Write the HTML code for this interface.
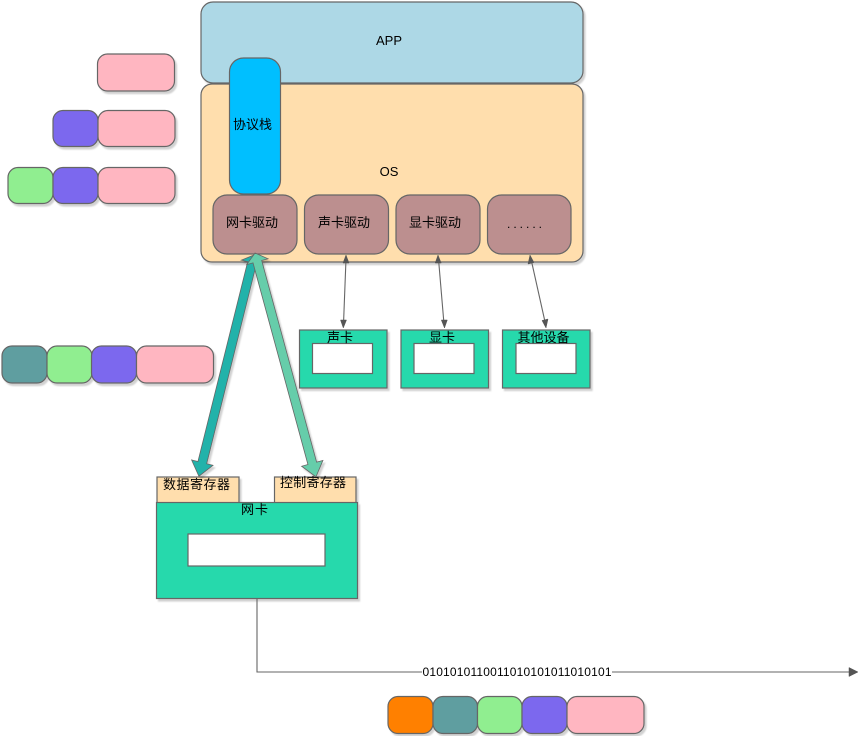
<!DOCTYPE html>
<html><head><meta charset="utf-8">
<style>
html,body{margin:0;padding:0;background:#fff;width:865px;height:736px;overflow:hidden}
svg{display:block}
text{font-family:"Liberation Sans","WenQuanYi Zen Hei","Noto Sans CJK SC",sans-serif;font-size:13px;fill:#000;text-anchor:middle}
.s rect,.s path{stroke:#666;stroke-width:1.2}
</style></head><body>
<svg width="865" height="736" viewBox="0 0 865 736" xmlns="http://www.w3.org/2000/svg">
<defs>
<filter id="sh" x="-10%" y="-10%" width="125%" height="125%"><feDropShadow dx="2" dy="2.500" stdDeviation="0.8" flood-color="#000" flood-opacity=".18"/></filter>
</defs>
<g class="s" filter="url(#sh)">
<rect x="201" y="2" width="382" height="81" rx="12" fill="#ADD8E6"/>
<rect x="201" y="84" width="382" height="178" rx="11" fill="#FFDEAD"/>
<rect x="229.500" y="58" width="51" height="136" rx="14" fill="#00BFFF"/>
<rect x="213" y="195" width="84" height="59" rx="14" fill="#BC8F8F"/>
<rect x="304.500" y="195" width="84" height="59" rx="14" fill="#BC8F8F"/>
<rect x="396" y="195" width="84" height="59" rx="14" fill="#BC8F8F"/>
<rect x="487.500" y="195" width="83.500" height="59" rx="14" fill="#BC8F8F"/>

<rect x="97.500" y="54" width="77" height="37" rx="10" fill="#FFB6C1"/>
<rect x="53" y="110.500" width="45" height="36" rx="10" fill="#7B68EE"/>
<rect x="98" y="110.500" width="77" height="36" rx="10" fill="#FFB6C1"/>
<rect x="8" y="167.500" width="45" height="36" rx="10" fill="#90EE90"/>
<rect x="53" y="167.500" width="45" height="36" rx="10" fill="#7B68EE"/>
<rect x="98" y="167.500" width="77" height="36" rx="10" fill="#FFB6C1"/>

<rect x="2" y="346" width="45" height="37" rx="10" fill="#5F9EA0"/>
<rect x="47" y="346" width="45" height="37" rx="10" fill="#90EE90"/>
<rect x="91.500" y="346" width="45" height="37" rx="10" fill="#7B68EE"/>
<rect x="136.500" y="346" width="77" height="37" rx="10" fill="#FFB6C1"/>

<rect x="388" y="696.500" width="45" height="37" rx="10" fill="#FF8000"/>
<rect x="433" y="696.500" width="44.500" height="37" rx="10" fill="#5F9EA0"/>
<rect x="477.500" y="696.500" width="44.500" height="37" rx="10" fill="#90EE90"/>
<rect x="522" y="696.500" width="45" height="37" rx="10" fill="#7B68EE"/>
<rect x="567" y="696.500" width="77" height="37" rx="10" fill="#FFB6C1"/>

<rect x="299.500" y="330" width="87.500" height="58" fill="#26D9AC"/>
<rect x="401" y="330" width="87.500" height="58" fill="#26D9AC"/>
<rect x="502.500" y="330" width="87.500" height="58" fill="#26D9AC"/>

<rect x="157" y="477" width="82" height="26" fill="#FFDEAD"/>
<rect x="274.500" y="477" width="81.500" height="26" fill="#FFDEAD"/>
<rect x="156.500" y="502.500" width="201" height="96" fill="#26D9AC"/>
</g>
<g class="s">
<rect x="312.500" y="343.500" width="60" height="30" fill="#fff"/>
<rect x="414" y="343.500" width="60" height="30" fill="#fff"/>
<rect x="516" y="343.500" width="60" height="30" fill="#fff"/>
<rect x="188" y="534" width="137" height="32" fill="#fff"/>
</g>

<!-- thick arrows -->
<g filter="url(#sh)" stroke="#666" stroke-width=".8">
<g transform="translate(254,255) rotate(103.98)">
<polygon points="0,0 8,-11 8,-4.500 214,-4.500 214,-11 228,0 214,11 214,4.500 8,4.500 8,11" fill="#20B2AA"/>
</g>
<g transform="translate(255,253) rotate(74.77)">
<polygon points="0,0 9,-11 9,-4.500 218,-4.500 218,-11 232,0 218,11 218,4.500 9,4.500 9,11" fill="#66CDAA"/>
</g>
</g>

<!-- thin arrows -->
<g stroke="#666" stroke-width="1.1" fill="none">
<path d="M346 259 L343.500 324"/>
<path d="M438.500 259 L444 324"/>
<path d="M531 259 L545.500 324"/>
<path d="M257 599 V672 H852"/>
</g>
<g fill="#555" stroke="#555" stroke-width=".5">
<polygon points="346,255 349,263 343,263"/>
<polygon points="343.300,328 340.500,320 346.500,320"/>
<polygon points="438,255 441.200,263 435.200,263"/>
<polygon points="444.500,328 441.300,320 447.300,320"/>
<polygon points="530,255 534,262.500 528,264"/>
<polygon points="546,328 542,320.500 548,319"/>
<polygon points="858,672 849,667.500 849,676.500"/>
</g>

<text x="389" y="45">APP</text>
<text x="389" y="176">OS</text>
<text x="252.500" y="129">协议栈</text>
<text x="252" y="227">网卡驱动</text>
<text x="344" y="227">声卡驱动</text>
<text x="435" y="227">显卡驱动</text>
<text x="526" y="228" style="font-size:12px;letter-spacing:3px">......</text>
<text x="340" y="342">声卡</text>
<text x="442" y="342">显卡</text>
<text x="543.500" y="342">其他设备</text>
<text x="196.500" y="489" textLength="67">数据寄存器</text>
<text x="313" y="487" textLength="66">控制寄存器</text>
<text x="254.500" y="514" textLength="27">网卡</text>
<rect x="422" y="665" width="190" height="14" fill="#fff"/>
<text x="517" y="676" style="font-size:12px" textLength="189">0101010110011010101011010101</text>
</svg>
</body></html>
